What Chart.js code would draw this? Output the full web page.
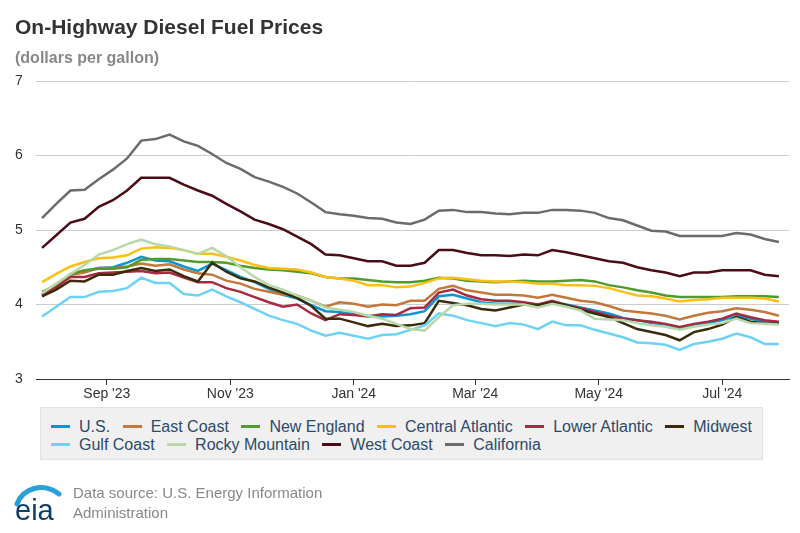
<!DOCTYPE html>
<html>
<head>
<meta charset="utf-8">
<title>On-Highway Diesel Fuel Prices</title>
<script src="https://cdn.jsdelivr.net/npm/chart.js@4.4.1/dist/chart.umd.min.js"></script>
<style>
  body { margin: 0; background: #fff; font-family: "Liberation Sans", Arial, sans-serif; }
  #wrap { position: relative; width: 800px; height: 533px; overflow: hidden; }
  #chart { position: absolute; left: 0; top: 0; }
  .title { position: absolute; left: 15px; top: 16px; font-size: 21px; line-height: 21px; font-weight: bold; color: #333; white-space: nowrap; }
  .subtitle { position: absolute; left: 15px; top: 50px; font-size: 16px; line-height: 16px; font-weight: bold; color: #888; white-space: nowrap; }
  #legend {
    position: absolute; left: 40px; top: 407px; width: 711px; height: 41.5px;
    padding: 9.5px 0 0 10px; background: #f0f0f0; border: 1px solid #e2e2e2;
    display: flex; flex-wrap: wrap; column-gap: 12.5px; align-content: flex-start;
  }
  .item { display: flex; align-items: center; height: 18px; font-size: 16px; color: #2c4a6a; white-space: nowrap; }
  .swatch { display: inline-block; width: 19px; height: 3px; margin-right: 9px; }
  .source { position: absolute; left: 73px; top: 483px; font-size: 15px; line-height: 20px; color: #888; }
  .logo { position: absolute; left: 13px; top: 480px; }
</style>
</head>
<body>
<div id="wrap">
  <canvas id="chart" width="800" height="533"></canvas>
  <div class="title">On-Highway Diesel Fuel Prices</div>
  <div class="subtitle">(dollars per gallon)</div>
  <div id="legend"></div>
  <svg class="logo" width="50" height="44" viewBox="0 0 50 44">
    <path d="M4 24 C 10 8, 30 2, 46 14" stroke="#2b9fd9" stroke-width="5" fill="none" stroke-linecap="round"/>
    <text x="2" y="40" font-size="29" font-family="Liberation Sans, Arial, sans-serif" fill="#123d66">eia</text>
  </svg>
  <div class="source">Data source: U.S. Energy Information<br>Administration</div>
</div>
<script>
// weekly observation dates (Mondays)
const weeks = [
  "2023-07-31", "2023-08-07", "2023-08-14", "2023-08-21", "2023-08-28",
  "2023-09-04", "2023-09-11", "2023-09-18", "2023-09-25", "2023-10-02",
  "2023-10-09", "2023-10-16", "2023-10-23", "2023-10-30", "2023-11-06",
  "2023-11-13", "2023-11-20", "2023-11-27", "2023-12-04", "2023-12-11",
  "2023-12-18", "2023-12-25", "2024-01-01", "2024-01-08", "2024-01-15",
  "2024-01-22", "2024-01-29", "2024-02-05", "2024-02-12", "2024-02-19",
  "2024-02-26", "2024-03-04", "2024-03-11", "2024-03-18", "2024-03-25",
  "2024-04-01", "2024-04-08", "2024-04-15", "2024-04-22", "2024-04-29",
  "2024-05-06", "2024-05-13", "2024-05-20", "2024-05-27", "2024-06-03",
  "2024-06-10", "2024-06-17", "2024-06-24", "2024-07-01", "2024-07-08",
  "2024-07-15", "2024-07-22", "2024-07-29"
];

const tickDates = ["2023-09-01", "2023-11-01", "2024-01-01", "2024-03-01", "2024-05-01", "2024-07-01"];
const tickLabels = ["Sep '23", "Nov '23", "Jan '24", "Mar '24", "May '24", "Jul '24"];

const usPrices = [
  4.13, 4.26, 4.40, 4.45, 4.49, 4.50, 4.56, 4.64, 4.59, 4.58,
  4.51, 4.45, 4.55, 4.46, 4.37, 4.30, 4.21, 4.13, 4.08, 3.99,
  3.91, 3.90, 3.88, 3.85, 3.84, 3.85, 3.87, 3.91, 4.11, 4.13,
  4.08, 4.03, 4.01, 4.01, 4.01, 3.99, 4.04, 4.00, 3.96, 3.92,
  3.88, 3.82, 3.79, 3.75, 3.73, 3.68, 3.73, 3.75, 3.79, 3.85,
  3.81, 3.77, 3.75
];
const eastCoast = [
  4.14, 4.26, 4.40, 4.43, 4.49, 4.49, 4.51, 4.55, 4.52, 4.54,
  4.47, 4.42, 4.40, 4.32, 4.28, 4.21, 4.17, 4.13, 4.12, 4.05,
  3.97, 4.03, 4.01, 3.97, 4.00, 3.99, 4.05, 4.05, 4.21, 4.25,
  4.19, 4.16, 4.13, 4.13, 4.12, 4.09, 4.13, 4.09, 4.05, 4.03,
  3.98, 3.92, 3.90, 3.88, 3.85, 3.80, 3.85, 3.89, 3.91, 3.95,
  3.93, 3.90, 3.85
];
const newEngland = [
  4.17, 4.26, 4.41, 4.46, 4.48, 4.48, 4.50, 4.60, 4.61, 4.61,
  4.59, 4.57, 4.57, 4.56, 4.52, 4.49, 4.47, 4.46, 4.44, 4.42,
  4.37, 4.35, 4.35, 4.33, 4.31, 4.30, 4.30, 4.32, 4.36, 4.35,
  4.32, 4.31, 4.30, 4.31, 4.32, 4.31, 4.31, 4.32, 4.33, 4.31,
  4.26, 4.23, 4.19, 4.16, 4.12, 4.10, 4.10, 4.10, 4.10, 4.11,
  4.11, 4.11, 4.10
];
const centralAtlantic = [
  4.30, 4.41, 4.51, 4.57, 4.62, 4.63, 4.66, 4.75, 4.77, 4.76,
  4.73, 4.68, 4.68, 4.64, 4.59, 4.53, 4.49, 4.48, 4.47, 4.43,
  4.37, 4.35, 4.32, 4.26, 4.26, 4.23, 4.24, 4.29, 4.35, 4.36,
  4.34, 4.32, 4.31, 4.31, 4.30, 4.28, 4.28, 4.26, 4.26, 4.25,
  4.22, 4.17, 4.12, 4.11, 4.08, 4.04, 4.06, 4.07, 4.09, 4.09,
  4.09, 4.08, 4.04
];
const lowerAtlantic = [
  4.12, 4.23, 4.37, 4.37, 4.42, 4.43, 4.44, 4.45, 4.42, 4.43,
  4.36, 4.30, 4.30, 4.22, 4.17, 4.10, 4.03, 3.97, 4.00, 3.88,
  3.79, 3.87, 3.86, 3.84, 3.87, 3.86, 3.95, 3.96, 4.16, 4.20,
  4.12, 4.07, 4.05, 4.05, 4.03, 4.00, 4.05, 3.99, 3.95, 3.90,
  3.85, 3.81, 3.79, 3.77, 3.74, 3.70, 3.74, 3.77, 3.81, 3.88,
  3.83, 3.79, 3.77
];
const midwest = [
  4.11, 4.20, 4.32, 4.31, 4.40, 4.40, 4.45, 4.49, 4.45, 4.47,
  4.38, 4.31, 4.56, 4.44, 4.35, 4.31, 4.23, 4.16, 4.09, 3.98,
  3.81, 3.81, 3.76, 3.71, 3.74, 3.71, 3.72, 3.75, 4.05, 4.02,
  3.99, 3.94, 3.92, 3.96, 4.00, 3.99, 4.03, 3.99, 3.93, 3.88,
  3.83, 3.75, 3.67, 3.63, 3.59, 3.52, 3.63, 3.67, 3.73, 3.83,
  3.77, 3.75, 3.74
];
const gulfCoast = [
  3.84, 3.97, 4.10, 4.10, 4.17, 4.18, 4.22, 4.36, 4.29, 4.29,
  4.14, 4.12, 4.20, 4.11, 4.03, 3.94, 3.85, 3.79, 3.74, 3.65,
  3.58, 3.62, 3.58, 3.54, 3.59, 3.60, 3.66, 3.72, 3.88, 3.85,
  3.79, 3.75, 3.71, 3.75, 3.73, 3.67, 3.77, 3.72, 3.72, 3.66,
  3.61, 3.56, 3.49, 3.48, 3.46, 3.39, 3.47, 3.50, 3.54, 3.61,
  3.56, 3.47, 3.47
];
const rockyMountain = [
  4.15, 4.28, 4.41, 4.53, 4.67, 4.73, 4.81, 4.87, 4.81, 4.78,
  4.73, 4.68, 4.76, 4.65, 4.50, 4.37, 4.26, 4.20, 4.12, 4.05,
  3.96, 3.93, 3.90, 3.85, 3.81, 3.74, 3.67, 3.65, 3.83, 3.99,
  4.01, 4.01, 4.00, 4.00, 4.00, 3.96, 4.01, 3.97, 3.92, 3.81,
  3.80, 3.79, 3.75, 3.72, 3.70, 3.66, 3.70, 3.73, 3.75, 3.81,
  3.75, 3.74, 3.73
];
const westCoast = [
  4.76, 4.93, 5.10, 5.15, 5.31, 5.40, 5.53, 5.70, 5.70, 5.70,
  5.61, 5.53, 5.46, 5.35, 5.25, 5.14, 5.08, 5.01, 4.91, 4.81,
  4.67, 4.66, 4.62, 4.58, 4.58, 4.52, 4.52, 4.56, 4.73, 4.73,
  4.69, 4.66, 4.66, 4.65, 4.67, 4.66, 4.73, 4.70, 4.66, 4.62,
  4.58, 4.56, 4.50, 4.46, 4.43, 4.38, 4.43, 4.43, 4.46, 4.46,
  4.46, 4.40, 4.38
];
const california = [
  5.16, 5.35, 5.53, 5.54, 5.68, 5.81, 5.96, 6.20, 6.22, 6.28,
  6.19, 6.13, 6.02, 5.90, 5.82, 5.71, 5.65, 5.58, 5.49, 5.37,
  5.24, 5.21, 5.19, 5.16, 5.15, 5.10, 5.08, 5.14, 5.26, 5.27,
  5.24, 5.24, 5.22, 5.21, 5.23, 5.23, 5.27, 5.27, 5.26, 5.23,
  5.16, 5.13, 5.06, 4.99, 4.98, 4.92, 4.92, 4.92, 4.92, 4.96,
  4.94, 4.88, 4.84
];

const seriesNames = ["U.S.", "East Coast", "New England", "Central Atlantic", "Lower Atlantic",
  "Midwest", "Gulf Coast", "Rocky Mountain", "West Coast", "California"];
const seriesValues = [usPrices, eastCoast, newEngland, centralAtlantic, lowerAtlantic,
  midwest, gulfCoast, rockyMountain, westCoast, california];
const seriesColors = ["#0a96d4", "#c4773a", "#519a2e", "#fdbf15", "#a62b40",
  "#3a2c0b", "#6dd2f4", "#b7d8a9", "#4a0c15", "#6b6b6b"];

// x axis works in days counted from the first week
const origin = Date.UTC(2023, 6, 31);
function dayOf(s) {
  const p = s.split("-");
  return (Date.UTC(+p[0], +p[1] - 1, +p[2]) - origin) / 86400000;
}

const datasets = seriesNames.map((name, i) => ({
  label: name,
  data: seriesValues[i].map((v, j) => ({ x: dayOf(weeks[j]), y: v })),
  borderColor: seriesColors[i],
  backgroundColor: seriesColors[i],
  borderWidth: 2.5,
  pointRadius: 0,
  tension: 0,
  order: seriesNames.length - i // later series drawn on top
}));

// legend in a grey box below the chart
const legendBox = document.getElementById("legend");
seriesNames.forEach((name, i) => {
  const item = document.createElement("div");
  item.className = "item";
  const sw = document.createElement("span");
  sw.className = "swatch";
  sw.style.background = seriesColors[i];
  item.appendChild(sw);
  item.appendChild(document.createTextNode(name));
  legendBox.appendChild(item);
});

Chart.defaults.font.family = '"Liberation Sans", Arial, sans-serif';

new Chart(document.getElementById("chart").getContext("2d"), {
  type: "line",
  data: { datasets: datasets },
  options: {
    responsive: false,
    animation: false,
    layout: { padding: { left: 15, right: 11, top: 81, bottom: 129 } },
    plugins: {
      legend: { display: false },
      tooltip: { enabled: false }
    },
    scales: {
      x: {
        type: "linear",
        min: -3,
        max: 369,
        afterBuildTicks: (scale) => {
          scale.ticks = tickDates.map((d) => ({ value: dayOf(d) }));
        },
        afterFit: (scale) => { scale.height = 25; },
        ticks: {
          autoSkip: false,
          maxRotation: 0,
          padding: 1,
          color: "#333",
          font: { size: 14 },
          callback: (value, index) => tickLabels[index]
        },
        grid: { drawOnChartArea: false, drawTicks: true, tickLength: 6, color: "#333" },
        border: { color: "#333", width: 1 }
      },
      y: {
        min: 3,
        max: 7,
        afterFit: (scale) => { scale.width = 21; },
        ticks: {
          stepSize: 1,
          crossAlign: "far",
          padding: 0,
          color: "#333",
          font: { size: 14 }
        },
        grid: { color: "#cccccc", drawTicks: false },
        border: { display: false }
      }
    }
  }
});
</script>
</body>
</html>
